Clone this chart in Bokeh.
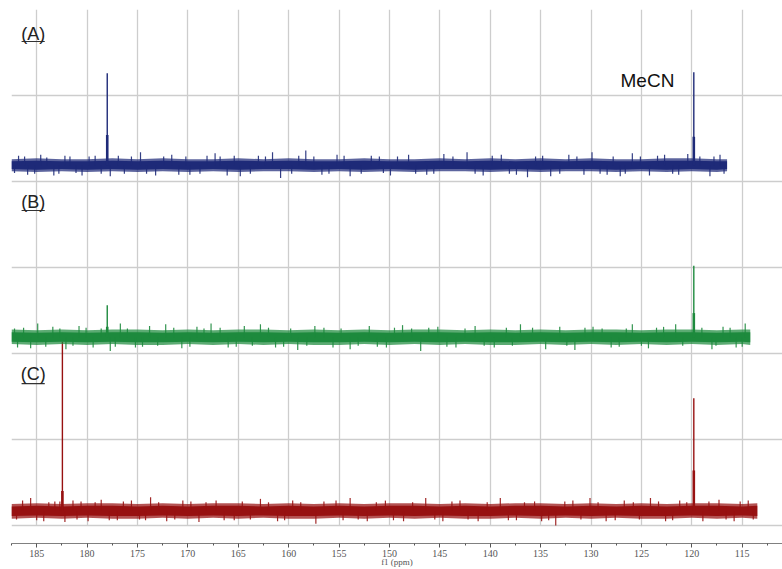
from bokeh.plotting import figure
from bokeh.models import Range1d, FixedTicker, Label
from bokeh.embed import file_html
from bokeh.resources import INLINE

# ---------------- data (chemical shift in ppm, intensity in arbitrary units) ----------------
X_LEFT, X_RIGHT = 187.5, 111.0
AXIS_TICKS = [185, 180, 175, 170, 165, 160, 155, 150, 145, 140, 135, 130, 125, 120, 115]
AXIS_MINOR = [187.5, 182.5, 177.5, 172.5, 167.5, 162.5, 157.5, 152.5, 147.5, 142.5,
              137.5, 132.5, 127.5, 122.5, 117.5, 112.5]

# Spectrum A (blue)
A_BAND_PPM = [187.5, 185, 182.5, 180, 177.5, 175, 172.5, 170, 167.5, 165, 162.5, 160, 157.5, 155,
              152.5, 150, 147.5, 145, 142.5, 140, 137.5, 135, 132.5, 130, 127.5, 125, 122.5, 120,
              117.5, 116.5]
A_BAND_UP = [0.07, 0.08, 0.07, 0.07, 0.08, 0.07, 0.08, 0.07, 0.07, 0.08, 0.07, 0.08, 0.07, 0.07,
             0.08, 0.07, 0.07, 0.08, 0.07, 0.08, 0.07, 0.08, 0.07, 0.08, 0.07, 0.07, 0.08, 0.08,
             0.07, 0.07]
A_BAND_LO = [-0.07, -0.08, -0.07, -0.08, -0.07, -0.08, -0.07, -0.08, -0.07, -0.08, -0.07, -0.07,
             -0.08, -0.07, -0.08, -0.07, -0.08, -0.07, -0.07, -0.08, -0.07, -0.08, -0.07, -0.07,
             -0.08, -0.07, -0.08, -0.07, -0.08, -0.07]
A_SPIKE_PPM = [186.8, 185.9, 184.6, 183.3, 181.7, 180.5, 179.2, 177.7, 176.9, 174.7, 173.2, 171.6,
               169.8, 167.3, 166.1, 164.8, 163.0, 161.6, 160.8, 158.3, 156.7, 155.2, 153.9, 151.8,
               149.9, 148.1, 146.3, 144.6, 142.3, 140.7, 138.9, 137.4, 136.3, 134.0, 132.2, 129.9,
               128.4, 127.1, 125.9, 124.2, 122.7, 121.3, 120.4, 118.2, 117.2,
               187.2, 186.2, 185.2, 184.0, 182.8, 182.2, 181.1, 179.8, 178.6, 176.3, 175.6, 174.1,
               172.4, 170.9, 170.2, 168.8, 168.1, 166.8, 165.4, 163.8, 162.3, 159.7, 159.0, 157.5,
               156.0, 154.5, 152.8, 151.0, 150.6, 149.2, 147.4, 145.6, 143.7, 141.5, 139.8, 138.1,
               135.5, 134.8, 133.1, 131.4, 130.7, 129.1, 127.8, 126.6, 125.1, 123.4, 121.9, 119.2,
               117.8, 116.8]
A_SPIKE_VAL = [0.11, -0.11, 0.12, -0.12, 0.10, -0.12, 0.11, -0.13, 0.11, 0.15, -0.12, 0.12,
               -0.11, 0.14, -0.12, -0.13, 0.11, 0.15, -0.15, 0.17, -0.11, 0.12, -0.13, 0.11,
               -0.12, 0.12, -0.11, 0.13, 0.15, -0.12, 0.12, -0.11, -0.14, -0.13, 0.12, 0.15,
               -0.11, -0.13, 0.14, -0.12, 0.12, -0.11, 0.13, -0.13, 0.12,
               -0.09, 0.10, -0.10, 0.09, -0.10, 0.11, -0.09, 0.10, -0.10, -0.10, 0.10, -0.10,
               0.10, -0.11, 0.10, -0.10, 0.11, 0.10, 0.11, -0.10, 0.10, -0.10, 0.11, 0.10,
               -0.10, 0.11, -0.10, 0.10, -0.09, 0.10, -0.10, -0.10, 0.10, -0.10, 0.11, -0.10,
               0.10, 0.11, -0.10, 0.10, -0.11, -0.10, 0.10, -0.10, 0.10, 0.11, -0.10, 0.10,
               0.10, -0.10]
A_PEAK_PPM = [178.0, 119.8]
A_PEAK_H = [1.07, 1.08]
A_PEAK_BASE = [0.35, 0.33]

# Spectrum B (green)
B_BAND_PPM = [187.5, 185, 182.5, 180, 177.5, 175, 172.5, 170, 167.5, 165, 162.5, 160, 157.5, 155,
              152.5, 150, 147.5, 145, 142.5, 140, 137.5, 135, 132.5, 130, 127.5, 125, 122.5, 120,
              117.5, 115, 114.2]
B_BAND_UP = [0.09, 0.08, 0.09, 0.08, 0.09, 0.09, 0.08, 0.09, 0.08, 0.09, 0.09, 0.08, 0.09, 0.08,
             0.09, 0.08, 0.09, 0.09, 0.08, 0.09, 0.08, 0.09, 0.08, 0.09, 0.09, 0.08, 0.09, 0.09,
             0.08, 0.09, 0.09]
B_BAND_LO = [-0.08, -0.09, -0.08, -0.09, -0.08, -0.09, -0.09, -0.08, -0.09, -0.08, -0.09, -0.08,
             -0.09, -0.09, -0.08, -0.09, -0.08, -0.09, -0.08, -0.09, -0.09, -0.08, -0.09, -0.08,
             -0.09, -0.08, -0.09, -0.08, -0.09, -0.08, -0.09]
B_SPIKE_PPM = [186.9, 185.6, 184.9, 183.4, 182.1, 180.8, 179.4, 177.7, 176.7, 175.2, 173.8, 172.2,
               170.6, 169.1, 167.7, 166.0, 164.4, 162.8, 161.3, 159.1, 157.4, 155.6, 153.9, 152.0,
               150.3, 148.7, 146.9, 145.2, 143.4, 141.5, 139.6, 137.0, 134.5, 133.1, 131.6, 129.8,
               128.0, 125.9, 124.3, 122.8, 121.6, 118.0, 116.9, 115.6, 114.7,
               187.2, 186.3, 184.1, 182.7, 181.4, 180.1, 178.6, 177.2, 176.0, 174.5, 173.0, 171.4,
               169.8, 168.4, 166.8, 165.2, 163.6, 162.0, 160.5, 159.8, 158.2, 156.5, 154.8, 153.1,
               151.2, 149.5, 147.8, 146.1, 144.3, 142.5, 140.6, 138.4, 137.8, 135.8, 132.4, 130.6,
               128.9, 127.2, 126.5, 125.0, 123.5, 120.9, 119.0, 117.6, 116.2, 115.0]
B_SPIKE_VAL = [-0.12, -0.13, 0.16, 0.12, -0.14, 0.13, -0.12, -0.16, 0.16, -0.12, 0.13, 0.15,
               -0.13, 0.12, 0.16, -0.12, 0.13, 0.15, -0.12, -0.15, 0.13, -0.12, -0.14, 0.13,
               -0.12, 0.14, -0.16, 0.12, -0.12, 0.13, -0.12, 0.15, -0.14, 0.12, -0.15, 0.12,
               -0.12, 0.15, -0.13, 0.12, 0.15, -0.14, 0.12, -0.12, 0.16,
               0.10, 0.11, -0.11, 0.10, -0.10, 0.11, 0.10, -0.11, 0.10, -0.11, -0.10, 0.11,
               -0.11, 0.10, 0.11, -0.11, -0.10, 0.11, -0.11, 0.10, -0.10, 0.11, 0.10, -0.10,
               -0.11, 0.11, 0.10, 0.11, -0.11, 0.10, -0.10, 0.11, -0.10, 0.11, -0.10, 0.11,
               0.10, -0.11, 0.10, -0.10, 0.11, -0.10, 0.11, -0.10, 0.11, -0.11]
B_PEAK_PPM = [178.0, 119.8]
B_PEAK_H = [0.37, 0.83]
B_PEAK_BASE = [0.12, 0.28]

# Spectrum C (red)
C_BAND_PPM = [187.5, 185, 182.5, 180, 177.5, 175, 172.5, 170, 167.5, 165, 162.5, 160, 157.5, 155,
              152.5, 150, 147.5, 145, 142.5, 140, 137.5, 135, 132.5, 130, 127.5, 125, 122.5, 120,
              117.5, 115, 113.5]
C_BAND_UP = [0.08, 0.09, 0.08, 0.09, 0.09, 0.08, 0.09, 0.08, 0.09, 0.09, 0.08, 0.09, 0.08, 0.09,
             0.08, 0.09, 0.09, 0.08, 0.09, 0.08, 0.09, 0.09, 0.08, 0.09, 0.08, 0.09, 0.08, 0.09,
             0.09, 0.08, 0.09]
C_BAND_LO = [-0.09, -0.08, -0.09, -0.08, -0.09, -0.09, -0.08, -0.09, -0.08, -0.09, -0.08, -0.09,
             -0.09, -0.08, -0.09, -0.08, -0.09, -0.08, -0.09, -0.09, -0.08, -0.09, -0.08, -0.09,
             -0.08, -0.09, -0.09, -0.08, -0.09, -0.08, -0.09]
C_SPIKE_PPM = [186.4, 185.6, 184.3, 183.2, 182.2, 181.4, 179.9, 178.6, 177.0, 175.6, 173.7, 172.1,
               170.5, 168.9, 167.2, 165.4, 162.8, 161.1, 159.6, 157.3, 155.3, 153.9, 152.2, 150.4,
               148.6, 146.4, 144.7, 143.0, 141.2, 139.0, 137.4, 134.9, 133.5, 131.8, 130.1, 128.5,
               126.7, 124.1, 122.6, 121.2, 118.9, 117.3, 115.8, 114.4,
               187.0, 185.0, 183.8, 182.7, 181.0, 180.6, 179.2, 177.8, 176.4, 174.8, 174.2, 172.9,
               171.3, 169.7, 168.2, 166.4, 164.6, 163.8, 162.0, 160.4, 158.8, 156.5, 154.6, 153.1,
               151.3, 149.6, 147.7, 145.5, 143.8, 142.2, 140.3, 138.2, 136.6, 135.6, 134.2, 132.6,
               131.0, 129.3, 127.6, 125.8, 125.2, 123.3, 121.9, 120.5, 118.3, 116.6, 115.2, 113.9]
C_SPIKE_VAL = [0.12, 0.15, -0.12, 0.11, -0.13, 0.12, -0.12, 0.13, -0.11, 0.12, 0.16, -0.12,
               0.12, -0.13, 0.12, -0.11, 0.14, -0.12, 0.12, -0.15, 0.12, 0.15, -0.12, 0.12,
               -0.12, 0.15, -0.12, 0.12, -0.12, 0.15, -0.11, -0.12, -0.17, 0.12, 0.15, -0.12,
               0.12, 0.15, -0.12, 0.12, -0.12, 0.13, -0.12, 0.12,
               -0.10, -0.11, 0.10, 0.11, -0.10, 0.11, 0.10, -0.11, 0.11, -0.10, -0.11, 0.10,
               -0.10, 0.11, 0.10, -0.11, 0.11, -0.10, 0.10, -0.11, 0.10, 0.11, -0.11, -0.10,
               0.10, -0.11, 0.10, -0.10, 0.11, -0.10, 0.10, -0.11, 0.10, 0.11, -0.11, 0.11,
               -0.10, 0.10, -0.11, 0.10, -0.10, 0.11, -0.11, 0.10, 0.11, -0.10, 0.11, -0.10]
C_PEAK_PPM = [182.45, 119.8]
C_PEAK_H = [1.97, 1.31]
C_PEAK_BASE = [0.23, 0.47]

# ---------------- figure ----------------
p = figure(width=782, height=569, output_backend="svg", toolbar_location=None,
           x_range=Range1d(X_LEFT, X_RIGHT), y_range=Range1d(-0.209, 6.0),
           min_border_left=11, min_border_right=0, min_border_top=9, min_border_bottom=26,
           y_axis_location=None)
p.outline_line_color = None
p.background_fill_color = "white"

# grid
p.xgrid.ticker = FixedTicker(ticks=AXIS_TICKS + [X_LEFT, X_RIGHT])
p.ygrid.ticker = FixedTicker(ticks=[0, 1, 2, 3, 4, 5, 6])
for g in (p.xgrid, p.ygrid):
    g.grid_line_color = "#cdcdcd"
    g.grid_line_width = 1.3
try:
    p.xgrid.cross_bounds = (0, 6)
except Exception:
    pass

# axis
ax = p.xaxis[0]
ax.ticker = FixedTicker(ticks=AXIS_TICKS, minor_ticks=AXIS_MINOR)
ax.axis_line_color = "#808080"
ax.major_tick_line_color = "#555555"
ax.minor_tick_line_color = "#555555"
ax.major_tick_in = 0
ax.major_tick_out = 4
ax.minor_tick_in = 0
ax.minor_tick_out = 2
ax.major_label_standoff = 2
ax.major_label_text_font = "Liberation Serif"
ax.major_label_text_font_size = "10px"
ax.major_label_text_color = "#555555"
ax.axis_label = "f1 (ppm)"
ax.axis_label_standoff = -3
ax.axis_label_text_font = "Liberation Serif"
ax.axis_label_text_font_style = "normal"
ax.axis_label_text_font_size = "9px"
ax.axis_label_text_color = "#555555"


def draw(band_ppm, up, lo, spk_ppm, spk_val, pk_ppm, pk_h, pk_b, base, color):
    # outer (lighter) fringe of the noise
    p.varea(x=band_ppm, y1=[base + v for v in lo], y2=[base + v for v in up],
            fill_color=color, fill_alpha=0.72)
    # dense core of the noise
    p.varea(x=band_ppm, y1=[base + 0.65 * v for v in lo], y2=[base + 0.65 * v for v in up],
            fill_color=color, fill_alpha=1.0)
    p.segment(x0=spk_ppm, y0=[base] * len(spk_ppm), x1=spk_ppm,
              y1=[base + v for v in spk_val], line_color=color, line_width=1.2, line_alpha=0.9)
    p.segment(x0=pk_ppm, y0=[base] * len(pk_ppm), x1=pk_ppm,
              y1=[base + v for v in pk_h], line_color=color, line_width=1.4)
    p.segment(x0=pk_ppm, y0=[base] * len(pk_ppm), x1=pk_ppm,
              y1=[base + v for v in pk_b], line_color=color, line_width=2.6)


draw(C_BAND_PPM, C_BAND_UP, C_BAND_LO, C_SPIKE_PPM, C_SPIKE_VAL,
     C_PEAK_PPM, C_PEAK_H, C_PEAK_BASE, 0.17, "#971111")
draw(B_BAND_PPM, B_BAND_UP, B_BAND_LO, B_SPIKE_PPM, B_SPIKE_VAL,
     B_PEAK_PPM, B_PEAK_H, B_PEAK_BASE, 2.19, "#1d8a3d")
draw(A_BAND_PPM, A_BAND_UP, A_BAND_LO, A_SPIKE_PPM, A_SPIKE_VAL,
     A_PEAK_PPM, A_PEAK_H, A_PEAK_BASE, 4.19, "#1e2a78")

# panel labels
for txt, yy, yu in (("(A)", 5.72, 5.628), ("(B)", 3.756, 3.663), ("(C)", 1.767, 1.651)):
    p.add_layout(Label(x=185.35, y=yy, text=txt, text_align="center", text_baseline="middle",
                       text_font="Liberation Sans", text_font_size="18px", text_color="#222222"))
    p.segment(x0=[186.5], y0=[yu], x1=[184.2], y1=[yu], line_color="#333333", line_width=1.2)

p.add_layout(Label(x=124.4, y=5.17, text="MeCN", text_align="center", text_baseline="middle",
                   text_font="Liberation Sans", text_font_size="19px", text_color="#111111"))

open("out.html", "w").write(file_html(p, INLINE))
